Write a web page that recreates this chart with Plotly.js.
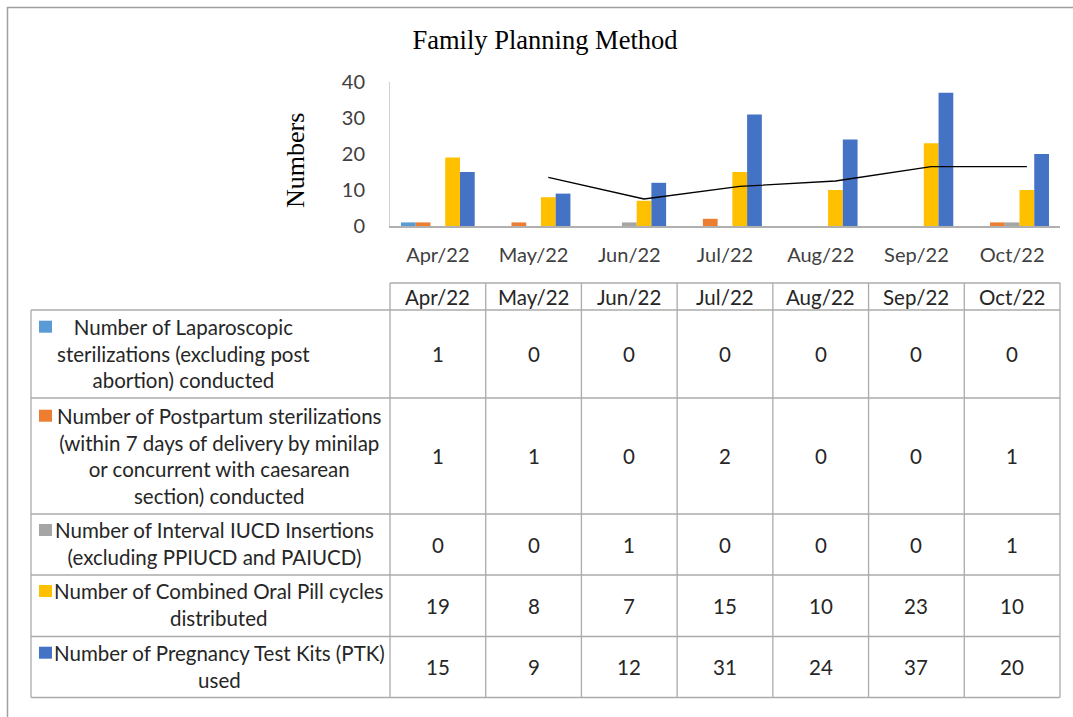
<!DOCTYPE html>
<html><head><meta charset="utf-8">
<script src="https://cdn.plot.ly/plotly-3.0.1.min.js"></script>
<style>html,body{margin:0;padding:0;background:#fff}#chart{width:1073px;height:717px}</style>
</head><body><div id="chart"></div><script>
// ---- data ----
const months = ['Apr/22','May/22','Jun/22','Jul/22','Aug/22','Sep/22','Oct/22'];
const seriesNames = [
  'Number of Laparoscopic<br>sterilizations (excluding post<br>abortion) conducted',
  'Number of Postpartum sterilizations<br>(within 7 days of delivery by minilap<br>or concurrent with caesarean<br>section) conducted',
  'Number of Interval IUCD Insertions<br>(excluding PPIUCD and PAIUCD)',
  'Number of Combined Oral Pill cycles<br>distributed',
  'Number of Pregnancy Test Kits (PTK)<br>used'
];
const laparoscopic = [1,0,0,0,0,0,0];
const postpartum   = [1,1,0,2,0,0,1];
const iucd         = [0,0,1,0,0,0,1];
const coc          = [19,8,7,15,10,23,10];
const ptk          = [15,9,12,31,24,37,20];
const yTicks = [0,10,20,30,40];

// ---- styles / layout constants ----
const allSeries = [laparoscopic, postpartum, iucd, coc, ptk];
const colors = ['#5b9bd5','#ed7d31','#a5a5a5','#ffc000','#4472c4'];
const W = 1073, H = 717;
const fx = x => x / W, fy = y => 1 - y / H;
const plotL = 390, plotR = 1060, plotT = 82, plotB = 226;
const bargap = 0.23;
const tableTop = 283, headBot = 310, tableL = 31;
const rowEdges = [310, 398, 514, 575, 636.5, 697.5];
const labelCx = [183, 219, 214, 219.5, 219.5];
const firstLineCy = [326.7, 415.7, 530, 591, 652.7];
const lineH = 26.6;
const textFont = {family:'Lato, sans-serif', size:20.5, color:'#262626'};
const gridColor = '#ababab';

// 2-period moving average trendline of the oral-pill series (Excel style)
const trend = [], trendX = [];
const barW = (1 - bargap) / allSeries.length;
for (let i = 1; i < coc.length; i++) {
  trend.push((coc[i-1] + coc[i]) / 2);
  trendX.push(i + (3 - (allSeries.length - 1) / 2) * barW);
}

const traces = allSeries.map((vals, k) => ({
  type:'bar', x: months, y: vals, name: seriesNames[k].replace(/<br>/g,' '),
  marker:{color: colors[k], line:{width:0}}, hoverinfo:'skip'
}));
traces.push({
  type:'scatter', mode:'lines', x: trendX, y: trend, xaxis:'x2', yaxis:'y',
  line:{color:'#000', width:1.3}, hoverinfo:'skip'
});

const shapes = [];
const annotations = [];
const line = (x0,y0,x1,y1,color,width) => shapes.push({type:'line', xref:'paper', yref:'paper',
  x0:fx(x0), y0:fy(y0), x1:fx(x1), y1:fy(y1), line:{color:color, width:width}});

// outer frame (top + left)
line(7, 7.5, W, 7.5, '#a0a0a0', 1.5);
line(7.5, 7, 7.5, H, '#a0a0a0', 1.5);

// table grid
const catW = (plotR - plotL) / months.length;
line(plotL, tableTop, plotR, tableTop, gridColor, 1.3);
rowEdges.forEach(y => line(tableL, y, plotR, y, gridColor, 1.3));
line(tableL, headBot, tableL, rowEdges[rowEdges.length-1], gridColor, 1.3);
for (let k = 0; k <= months.length; k++) {
  const x = plotL + k * catW;
  line(x, tableTop, x, rowEdges[rowEdges.length-1], gridColor, 1.3);
}

// header month labels
months.forEach(m => annotations.push({xref:'x', yref:'paper', x:m, y:fy((tableTop+headBot)/2),
  text:m, showarrow:false, xanchor:'center', yanchor:'middle', font:textFont}));

// rows
allSeries.forEach((vals, r) => {
  const top = rowEdges[r], bot = rowEdges[r+1];
  const nLines = seriesNames[r].split('<br>').length;
  const cy = firstLineCy[r] + (nLines - 1) * lineH / 2;
  annotations.push({xref:'paper', yref:'paper', x:fx(labelCx[r]), y:fy(cy), text:seriesNames[r],
    showarrow:false, xanchor:'center', yanchor:'middle', align:'center', font:textFont});
  shapes.push({type:'rect', xref:'paper', yref:'paper', x0:fx(39), x1:fx(52),
    y0:fy(firstLineCy[r]-6), y1:fy(firstLineCy[r]+6), fillcolor:colors[r], line:{width:0}});
  vals.forEach((v, i) => annotations.push({xref:'x', yref:'paper', x:months[i], y:fy((top+bot)/2),
    text:String(v), showarrow:false, xanchor:'center', yanchor:'middle', font:textFont}));
});

// y axis title
annotations.push({xref:'paper', yref:'paper', x:fx(296), y:fy(161), text:'Numbers', textangle:-90,
  showarrow:false, xanchor:'center', yanchor:'middle',
  font:{family:'Liberation Serif, serif', size:26, color:'#000'}});

const layout = {
  width:W, height:H, margin:{l:0,r:0,t:0,b:0}, paper_bgcolor:'#fff', plot_bgcolor:'#fff',
  showlegend:false, barmode:'group', bargap:bargap, bargroupgap:0,
  title:{text:'Family Planning Method', x:fx(545), y:fy(40), xanchor:'center', yanchor:'middle',
    font:{family:'Liberation Serif, serif', size:26.5, color:'#000'}},
  xaxis:{domain:[fx(plotL), fx(plotR)], type:'category', showline:true, linecolor:'#b0b0b0', linewidth:1.5,
    ticks:'', showgrid:false, zeroline:false, ticklabelstandoff:10,
    tickfont:{family:'Lato, sans-serif', size:20, color:'#404040'}},
  xaxis2:{overlaying:'x', range:[-0.5, months.length - 0.5], visible:false},
  yaxis:{domain:[fy(plotB), fy(plotT)], range:[0,40], tickvals:yTicks, showline:true,
    linecolor:'#d0d0d0', linewidth:1, ticks:'', showgrid:false, zeroline:false, ticklabelstandoff:20,
    tickfont:{family:'Lato, sans-serif', size:20, color:'#404040'}},
  shapes:shapes, annotations:annotations
};
Plotly.newPlot('chart', traces, layout, {staticPlot:true, displayModeBar:false});
</script></body></html>
